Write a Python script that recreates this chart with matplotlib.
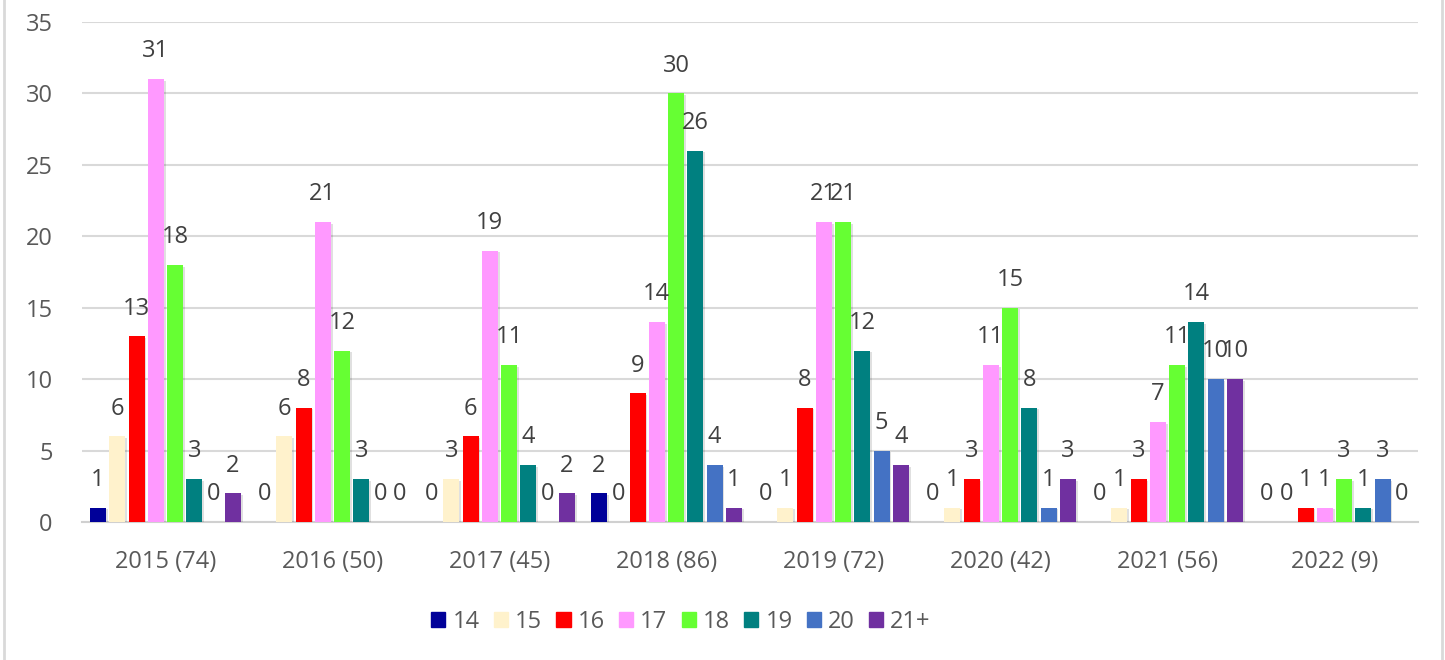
import matplotlib
matplotlib.use("Agg")
import matplotlib.pyplot as plt
import matplotlib.patheffects as pe
from matplotlib.lines import Line2D
import numpy as np

plt.rcParams['font.family'] = ['Open Sans', 'DejaVu Sans']

categories = ["2015 (74)", "2016 (50)", "2017 (45)", "2018 (86)",
              "2019 (72)", "2020 (42)", "2021 (56)", "2022 (9)"]
series_names = ["14", "15", "16", "17", "18", "19", "20", "21+"]
colors = ["#000099", "#FFF2CC", "#FF0000", "#FF99FF", "#66FF33", "#008080", "#4472C4", "#7030A0"]

age_14 = [1, 0, 0, 2, 0, 0, 0, 0]
age_15 = [6, 6, 3, 0, 1, 1, 1, 0]
age_16 = [13, 8, 6, 9, 8, 3, 3, 1]
age_17 = [31, 21, 19, 14, 21, 11, 7, 1]
age_18 = [18, 12, 11, 30, 21, 15, 11, 3]
age_19 = [3, 3, 4, 26, 12, 8, 14, 1]
age_20 = [0, 0, 0, 4, 5, 1, 10, 3]
age_21p = [2, 0, 2, 1, 4, 3, 10, 0]
values = [age_14, age_15, age_16, age_17, age_18, age_19, age_20, age_21p]

fig = plt.figure(figsize=(14.45, 6.6), dpi=100)
ax = fig.add_axes([82/1445, 138/660, 1336/1445, 500/660])

x = np.arange(len(categories))
step = 0.1155
width = 0.096
n = len(series_names)
shadow = [pe.SimplePatchShadow(offset=(1.2, -1.2), shadow_rgbFace='#000000', alpha=0.12), pe.Normal()]
for i, (name, vals, col) in enumerate(zip(series_names, values, colors)):
    pos = x + (i - (n - 1) / 2) * step
    bars = ax.bar(pos, vals, width=width, color=col, label=name, zorder=3)
    for b in bars:
        b.set_path_effects(shadow)
    for px, v in zip(pos, vals):
        ax.annotate(str(v), (px, v), xytext=(0, 20), textcoords='offset points',
                    ha='center', va='center', fontsize=17, color='#404040', zorder=5)

ax.set_xlim(-0.5, len(categories) - 0.5)
ax.set_ylim(0, 35)
ax.set_yticks(range(0, 36, 5))
ax.set_xticks(x)
ax.set_xticklabels(categories)
ax.tick_params(axis='both', length=0, labelsize=17, labelcolor='#595959')
ax.tick_params(axis='x', pad=20)
ax.tick_params(axis='y', pad=21)
ax.grid(axis='y', color='#D9D9D9', linewidth=1.5, zorder=0)
for s in ['top', 'right', 'left']:
    ax.spines[s].set_visible(False)
ax.spines['bottom'].set_color('#D0D0D0')
ax.spines['bottom'].set_linewidth(1.5)

handles = [plt.Rectangle((0, 0), 1, 1, color=c) for c in colors]
fig.legend(handles, series_names, loc='center', bbox_to_anchor=(681/1445, 1 - 622/660),
           ncol=n, frameon=False, fontsize=17, labelcolor='#595959',
           handlelength=0.6, handleheight=0.6, handletextpad=0.3, columnspacing=0.6)

fig.add_artist(Line2D([4/1445, 4/1445], [0, 1], color='#D9D9D9', linewidth=2))
fig.add_artist(Line2D([1442/1445, 1442/1445], [0, 1], color='#D9D9D9', linewidth=2))

fig.savefig("out.png", dpi=100)
